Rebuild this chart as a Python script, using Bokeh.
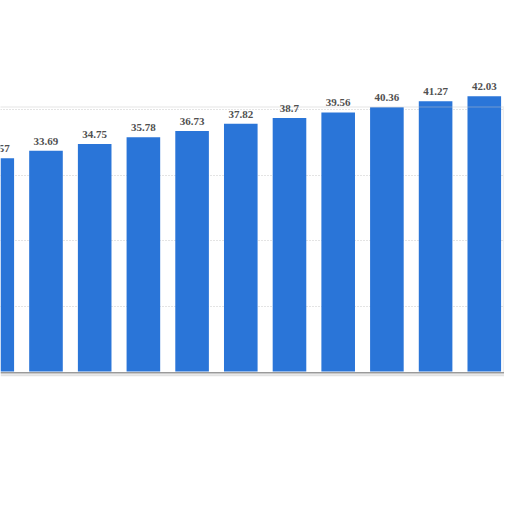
from bokeh.plotting import figure
from bokeh.models import ColumnDataSource, Range1d, LabelSet, BoxAnnotation, Span
from bokeh.embed import file_html
from bokeh.resources import INLINE

positions = [0, 1, 2, 3, 4, 5, 6, 7, 8, 9, 10]
values = [32.57, 33.69, 34.75, 35.78, 36.73, 37.82, 38.7, 39.56, 40.36, 41.27, 42.03]
labels = ["32.57", "33.69", "34.75", "35.78", "36.73", "37.82", "38.7", "39.56", "40.36", "41.27", "42.03"]
grid_ticks = [10, 20, 30, 40]

src = ColumnDataSource(dict(x=positions, top=values, label=labels))

p = figure(width=504, height=504, output_backend="svg", toolbar_location=None,
           x_range=Range1d(0.066, 10.415), y_range=Range1d(-20.3, 56.64),
           min_border=0, outline_line_color=None)
p.background_fill_color = "white"
p.border_fill_color = "white"
p.xaxis.visible = False
p.yaxis.visible = False
p.xgrid.grid_line_color = None
p.ygrid.ticker = grid_ticks
p.ygrid.grid_line_color = "#c8c8c8"
p.ygrid.grid_line_dash = "1 2"
p.ygrid.grid_line_width = 1

# frame decoration
p.add_layout(BoxAnnotation(left=-1, right=10.395, bottom=-0.2, top=40.4,
                           fill_alpha=0, line_color="#c8c8c8", line_width=1.5))
p.add_layout(Span(location=-0.2, dimension="width", line_color="#9a9a9a", line_width=1.5))
p.add_layout(Span(location=-0.55, dimension="width", line_color="#e2e2e2", line_width=2))

p.vbar(x="x", top="top", bottom=0, width=0.69, source=src,
       fill_color="#2a75d8", line_color=None)

labs = LabelSet(x="x", y="top", text="label", source=src, text_align="center",
                text_baseline="bottom", y_offset=6, text_font="Open Sans",
                text_font_style="bold", text_font_size="11px", text_color="#505050")
p.add_layout(labs)

open("out.html", "w").write(file_html(p, INLINE))
